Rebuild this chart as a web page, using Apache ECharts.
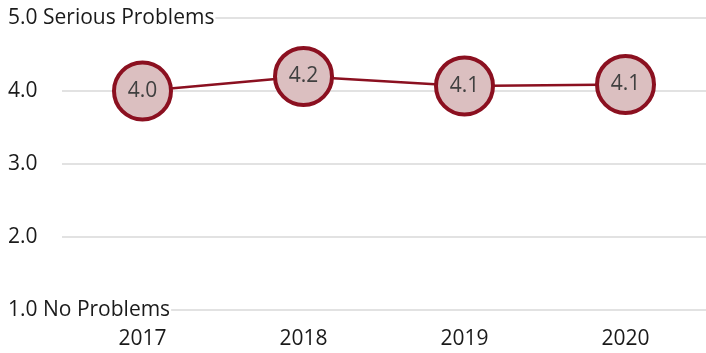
<!DOCTYPE html>
<html>
<head>
<meta charset="UTF-8">
<title></title>
<style>
*{padding:0;margin:0;}
body{background:#fff;}
#chart{width:706px;height:353px;}
</style>
</head>
<body>
<div id="chart"></div>
<script src="https://cdn.jsdelivr.net/npm/echarts@6/dist/echarts.min.js"></script>
<script>
var years=["2017","2018","2019","2020"];
var scores=[4.0,4.2,4.07,4.09];
var yTicks={1:"1.0 No Problems",2:"2.0",3:"3.0",4:"4.0",5:"5.0 Serious Problems"};

var chart=echarts.init(document.getElementById("chart"));
var font="Open Sans";
chart.setOption({
	animation:false,
	grid:{left:62,right:-4,top:18,bottom:43},
	xAxis:{
		type:"category",
		data:years,
		axisTick:{show:false},
		axisLine:{show:false},
		axisLabel:{color:"#1a1a1a",fontSize:21,fontFamily:font,margin:19}
	},
	yAxis:{
		type:"value",
		min:1,max:5,interval:1,
		axisLine:{show:false},
		axisTick:{show:false},
		splitLine:{lineStyle:{color:"#d9d9d9",width:1.5}},
		axisLabel:{
			align:"left",
			margin:54,
			color:"#1a1a1a",
			fontSize:21,
			fontFamily:font,
			backgroundColor:"#fff",
			padding:[0,1,0,0],
			formatter:function(v){return yTicks[v];}
		}
	},
	series:[{
		type:"line",
		data:scores,
		symbol:"circle",
		symbolSize:57,
		lineStyle:{color:"#8b1020",width:2.5},
		itemStyle:{color:"#dbbfc0",borderColor:"#8b1020",borderWidth:4},
		label:{
			show:true,
			position:"inside",
			color:"#404040",
			fontSize:21,
			fontFamily:font,
			formatter:function(p){return p.value.toFixed(1);}
		},
		z:3
	}]
});
</script>
</body>
</html>
